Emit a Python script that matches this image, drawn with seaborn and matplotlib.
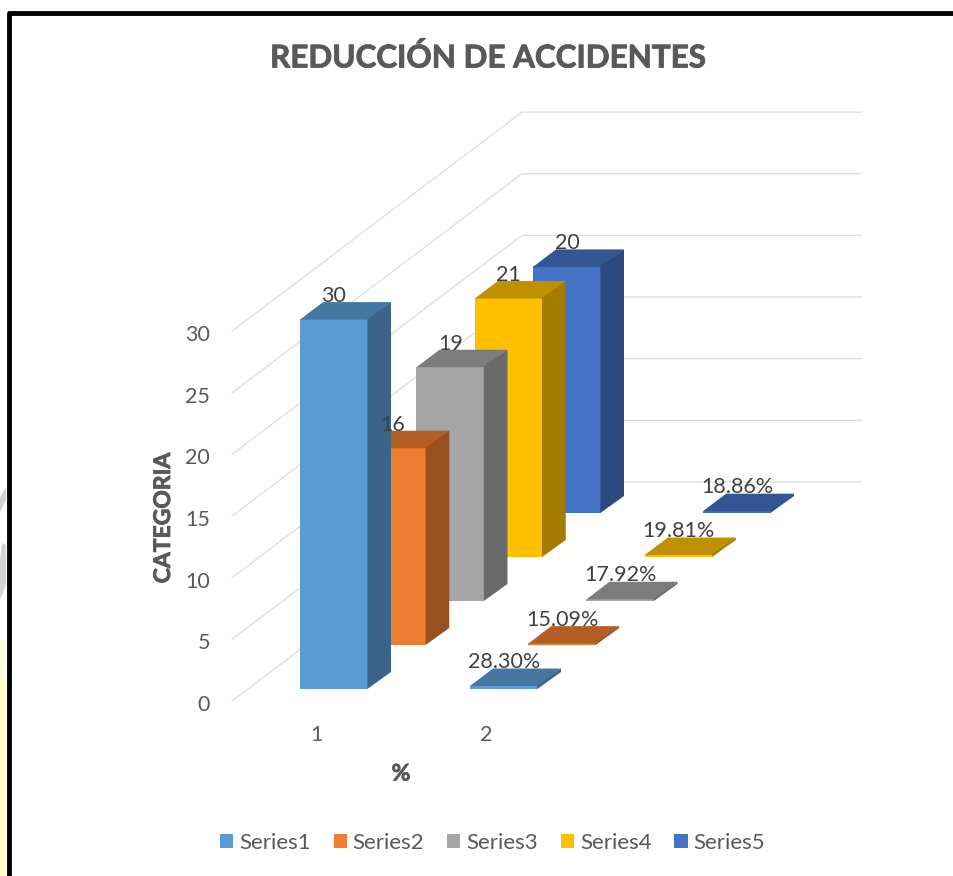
import matplotlib
matplotlib.use("Agg")
import matplotlib.pyplot as plt
import matplotlib.patheffects as pe
import pandas as pd
import seaborn as sns
from matplotlib.patches import Patch

# data
series_names = ["Series1", "Series2", "Series3", "Series4", "Series5"]
categories = ["1", "2"]
counts = [30, 16, 19, 21, 20]
percents = [28.30, 15.09, 17.92, 19.81, 18.86]
value_ticks = [0, 5, 10, 15, 20, 25, 30]

front_colors = ["#5B9BD5", "#ED7D31", "#A5A5A5", "#FFC000", "#4472C4"]
top_colors = ["#4577A3", "#B25E25", "#7C7C7C", "#BF9000", "#335693"]
side_colors = ["#3A6489", "#98501F", "#6A6A6A", "#A37B00", "#2C497E"]

W, H = 954, 876
sns.set_theme(style="white")
plt.rcParams["font.family"] = ["Lato", "DejaVu Sans"]

fig = plt.figure(figsize=(W / 100, H / 100), dpi=100)
ax = fig.add_axes([0, 0, 1, 1])

# oblique projection of the 3D chart, in pixels (y counted from the bottom)
px_per_unit = 12.33
floor_x, floor_y = 232, H - 701
wall_dx, wall_dy = 290, 219
wall_w = 340
bar_x0, bar_y0 = 300, H - 689
bar_w = 68
cat_step = 170
series_dx, series_dy = 58.25, 44
bar_dx, bar_dy = 23, 17

# walls
for v in value_ticks:
    y = floor_y + v * px_per_unit
    ax.plot([floor_x, floor_x + wall_dx, floor_x + wall_dx + wall_w],
            [y, y + wall_dy, y + wall_dy], color="#DCDCDC", lw=0.9, zorder=0)
    ax.text(210, y - 4, str(v), ha="right", va="center", fontsize=15.5, color="#595959")

# back series first so nearer bars cover them
for s in reversed(range(len(series_names))):
    heights = [counts[s], percents[s] / 100]
    lefts = [bar_x0 + s * series_dx + c * cat_step for c in range(2)]
    bottom = bar_y0 + s * series_dy
    df = pd.DataFrame({"x": [l + bar_w / 2 for l in lefts],
                       "h": [h * px_per_unit for h in heights]})
    z = 10 - s
    sns.barplot(data=df, x="x", y="h", native_scale=True, width=bar_w / cat_step,
                bottom=bottom, color=front_colors[s], saturation=1, errorbar=None,
                linewidth=0, zorder=z, ax=ax)
    for left, h in zip(lefts, heights):
        top = bottom + h * px_per_unit
        right = left + bar_w
        # faces overlap the front by a hair so no seam shows through
        ax.fill([left, right, right + bar_dx, left + bar_dx],
                [top - 0.5, top - 0.5, top + bar_dy, top + bar_dy],
                color=top_colors[s], lw=0, zorder=z)
        ax.fill([right - 0.7, right + bar_dx, right + bar_dx, right - 0.7],
                [bottom, bottom + bar_dy, top + bar_dy, top],
                color=side_colors[s], lw=0, zorder=z)

# data labels go above everything
for s in range(len(series_names)):
    bottom = bar_y0 + s * series_dy
    center = bar_x0 + s * series_dx + bar_w / 2
    ax.text(center, bottom + counts[s] * px_per_unit + 23, str(counts[s]),
            ha="center", va="center", fontsize=15.5, color="#404040", zorder=20)
    ax.text(center + cat_step, bottom + percents[s] / 100 * px_per_unit + 23.5, f"{percents[s]:.2f}%",
            ha="center", va="center", fontsize=15.5, color="#404040", zorder=20)

for c, name in enumerate(categories):
    ax.text(316 + c * cat_step, H - 735, name, ha="center", va="center", fontsize=15.5, color="#595959")

# Lato bold is lighter than the original's face, a thin stroke makes up for it
heavy = [pe.withStroke(linewidth=0.6, foreground="#595959")]
ax.text(488, H - 58, "REDUCCIÓN DE ACCIDENTES", ha="center", va="center",
        fontsize=22.6, fontweight="bold", color="#595959", path_effects=heavy)
ax.text(163.5, H - 518, "CATEGORIA", rotation=90, ha="center", va="center",
        fontsize=16.5, fontweight="bold", color="#595959", path_effects=heavy)
ax.text(401, H - 774, "%", ha="center", va="center",
        fontsize=16.5, fontweight="bold", color="#595959", path_effects=heavy)

handles = [Patch(color=c, lw=0) for c in front_colors]
ax.legend(handles, series_names, loc="center", bbox_to_anchor=(492.5, H - 843),
          bbox_transform=ax.transData, ncol=5, frameon=False, fontsize=16,
          labelcolor="#595959", handlelength=0.6, handleheight=0.6,
          handletextpad=0.26, columnspacing=1.03, borderpad=0)

# black frame of the pasted image and the scraps left of it
ax.plot([9.3, 9.3, W + 5], [-5, H - 12.5, H - 12.5], color="black", lw=3.5,
        solid_joinstyle="round", zorder=30)
ax.fill([0, 6, 6, 0], [0, 0, H - 786, H - 786], color="#FFFFC8", lw=0, zorder=30)
ax.fill([0, 6, 6, 0], [H - 800, H - 800, H - 680, H - 680], color="#FFFFC8", lw=0, zorder=30)
ax.fill([0, 6, 6, 0], [H - 680, H - 680, H - 640, H - 640], color="#FFFFE6", lw=0, zorder=30)
ax.fill([0, 6, 6, 2, 0], [H - 600, H - 585, H - 545, H - 543, H - 560], color="#D4D4D4", lw=0, zorder=30)
ax.fill([0, 6, 6, 0], [H - 512, H - 500, H - 487, H - 497], color="#D4D4D4", lw=0, zorder=30)

ax.set_xlim(0, W)
ax.set_ylim(0, H)
ax.axis("off")

fig.savefig("out.png", dpi=100, facecolor="white")
